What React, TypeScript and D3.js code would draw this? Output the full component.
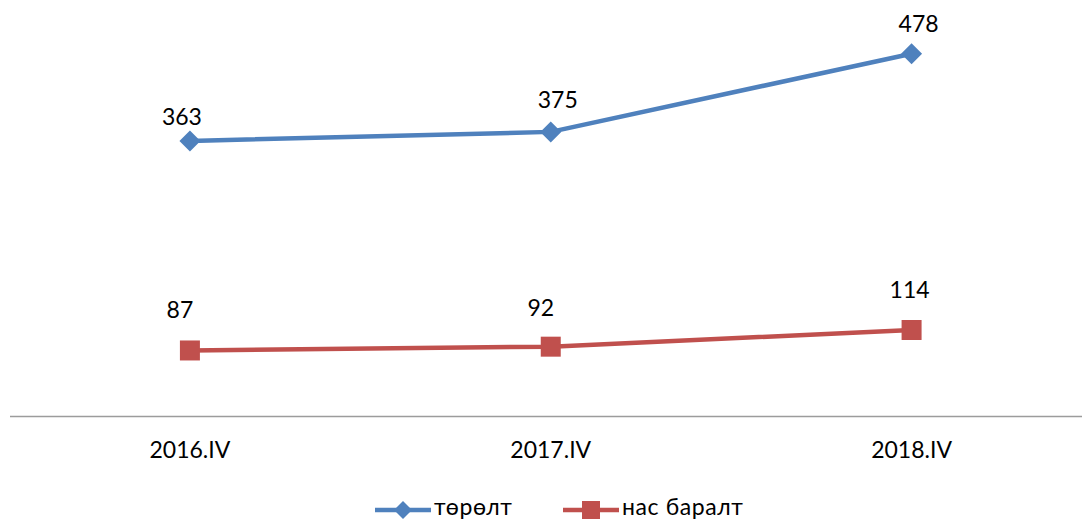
import { useEffect, useRef } from 'react';
import * as d3 from 'd3';

const categories = ['2016.IV', '2017.IV', '2018.IV'];
const births = [363, 375, 478];
const deaths = [87, 92, 114];
const seriesNames = ['төрөлт', 'нас баралт'];
// hand-placed label nudges, as in the source chart
const birthLabelShift = [[-8, -16], [7, -24], [7, -22]];
const deathLabelShift = [[-10, -32], [-10, -31], [-2, -32]];

const BLUE = '#4F81BD';
const RED = '#C0504D';
const FONT = 'Lato, "Open Sans", sans-serif';

export default function App() {
  const svgRef = useRef<SVGSVGElement>(null);

  useEffect(() => {
    const svg = d3.select(svgRef.current);
    svg.selectAll('*').remove();

    const width = 1082;
    const height = 522;
    const baseY = 416.5;

    const x = d3.scalePoint<string>()
      .domain(categories)
      .range([9.5, 1092])
      .padding(0.5);

    const y = d3.scaleLinear()
      .domain([0, 500])
      .range([baseY, baseY - 500 * 0.759]);

    svg.attr('width', width).attr('height', height);

    // category axis line
    svg.append('line')
      .attr('x1', 10)
      .attr('x2', width)
      .attr('y1', y(0))
      .attr('y2', y(0))
      .attr('stroke', '#9c9c9c')
      .attr('stroke-width', 1.6);

    svg.selectAll('.cat')
      .data(categories)
      .join('text')
      .attr('class', 'cat')
      .attr('x', d => x(d)!)
      .attr('y', 458)
      .attr('text-anchor', 'middle')
      .style('font-family', FONT)
      .style('font-size', '23px')
      .style('fill', '#000')
      .text(d => d);

    const diamond = (r: number) => `M0,${-r}L${r},0L0,${r}L${-r},0Z`;

    const series = [
      { values: births, color: BLUE, shape: 'diamond', shift: birthLabelShift },
      { values: deaths, color: RED, shape: 'square', shift: deathLabelShift }
    ];

    const line = d3.line<number>()
      .x((_, i) => x(categories[i])!)
      .y(d => y(d));

    series.forEach(s => {
      const g = svg.append('g');
      g.append('path')
        .datum(s.values)
        .attr('d', line)
        .attr('fill', 'none')
        .attr('stroke', s.color)
        .attr('stroke-width', 4.5)
        .attr('stroke-linejoin', 'round');

      g.selectAll('.mark')
        .data(s.values)
        .join('path')
        .attr('class', 'mark')
        .attr('transform', (d, i) => `translate(${x(categories[i])},${y(d)})`)
        .attr('d', s.shape === 'diamond' ? diamond(10.5) : 'M-10,-10H10V10H-10Z')
        .attr('fill', s.color);

      g.selectAll('.lbl')
        .data(s.values)
        .join('text')
        .attr('class', 'lbl')
        .attr('x', (d, i) => x(categories[i])! + s.shift[i][0])
        .attr('y', (d, i) => y(d) + s.shift[i][1])
        .attr('text-anchor', 'middle')
        .style('font-family', FONT)
        .style('font-size', '23px')
        .style('fill', '#000')
        .text(d => d);
    });

    // legend
    const legend = [
      { name: seriesNames[0], color: BLUE, shape: 'diamond', x0: 375 },
      { name: seriesNames[1], color: RED, shape: 'square', x0: 563 }
    ];
    legend.forEach(l => {
      const g = svg.append('g').attr('transform', `translate(${l.x0},510)`);
      g.append('line')
        .attr('x1', 0).attr('x2', 56)
        .attr('stroke', l.color)
        .attr('stroke-width', 4.5);
      g.append('path')
        .attr('transform', 'translate(28,0)')
        .attr('d', l.shape === 'diamond' ? diamond(9) : 'M-9,-9H9V9H-9Z')
        .attr('fill', l.color);
      g.append('text')
        .attr('x', 59)
        .attr('y', 5)
        .style('font-family', FONT)
        .style('font-size', '23px')
        .style('letter-spacing', '0.6px')
        .style('fill', '#000')
        .text(l.name);
    });
  }, []);

  return (
    <svg
      ref={svgRef}
      style={{ position: 'absolute', left: 0, top: 0, background: '#fff' }}
    />
  );
}
